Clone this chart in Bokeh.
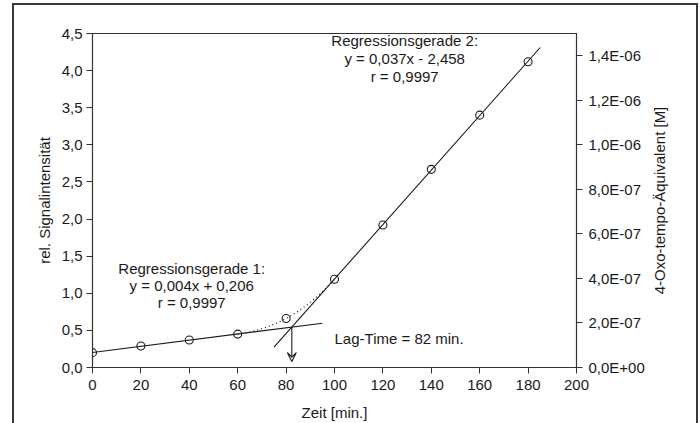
import numpy as np
from bokeh.plotting import figure
from bokeh.layouts import row
from bokeh.models import (Range1d, LinearAxis, FixedTicker, Arrow, VeeHead,
                          InlineStyleSheet)
from bokeh.core.properties import value
from bokeh.embed import file_html
from bokeh.resources import INLINE

# ---- data ----
time_min = [0, 20, 40, 60, 80, 100, 120, 140, 160, 180]
signal = [0.20, 0.29, 0.37, 0.45, 0.66, 1.19, 1.92, 2.67, 3.40, 4.12]

left_ticks = [0.0, 0.5, 1.0, 1.5, 2.0, 2.5, 3.0, 3.5, 4.0, 4.5]
left_tick_labels = ["0,0", "0,5", "1,0", "1,5", "2,0", "2,5", "3,0", "3,5", "4,0", "4,5"]
bottom_ticks = [0, 20, 40, 60, 80, 100, 120, 140, 160, 180, 200]
right_ticks = [0.0, 2e-7, 4e-7, 6e-7, 8e-7, 1.0e-6, 1.2e-6, 1.4e-6]
right_tick_labels = ["0,0E+00", "2,0E-07", "4,0E-07", "6,0E-07", "8,0E-07",
                     "1,0E-06", "1,2E-06", "1,4E-06"]
right_max = 1.5e-6
right_axis_title = "4-Oxo-tempo-Äquivalent [M]"

reg1_text = ["Regressionsgerade 1:", "y = 0,004x + 0,206", "r = 0,9997"]
reg2_text = ["Regressionsgerade 2:", "y = 0,037x - 2,458", "r = 0,9997"]
lag_text = "Lag-Time = 82 min."

# ---- fits ----
m1, b1 = np.polyfit(time_min[0:4], signal[0:4], 1)
m2, b2 = np.polyfit(time_min[5:], signal[5:], 1)
lag = (b1 - b2) / (m2 - m1)
lag_y = m1 * lag + b1

FONT = "Liberation Sans"
FS = "15px"
INK = "#1a1a1a"

frame_css = InlineStyleSheet(css="""
:host { position: relative; }
:host::after {
  content: "";
  position: absolute;
  left: 12px; top: 3px; right: 6px; bottom: 0px;
  border: 2px solid #3a3a3a;
  border-bottom: none;
  pointer-events: none;
  z-index: 100;
}
""")

p = figure(width=646, height=423, frame_width=484, frame_height=334,
           min_border_left=92, min_border_right=70, min_border_top=33, min_border_bottom=56,
           x_range=Range1d(0, 200), y_range=Range1d(0, 4.5),
           output_backend="svg", toolbar_location=None)
p.extra_y_ranges = {"conc": Range1d(0, right_max)}
p.grid.visible = False
p.outline_line_color = "#333333"
p.outline_line_width = 1.2
p.background_fill_color = "white"
p.border_fill_color = "white"

def style_axis(ax):
    ax.axis_line_color = "#333333"
    ax.major_tick_line_color = "#333333"
    ax.minor_tick_line_color = None
    ax.major_tick_in = 0
    ax.major_tick_out = 6
    ax.major_label_text_font = FONT
    ax.major_label_text_font_size = FS
    ax.major_label_text_color = INK
    ax.axis_label_text_font = FONT
    ax.axis_label_text_font_size = FS
    ax.axis_label_text_font_style = "normal"
    ax.axis_label_text_color = INK

xa = p.xaxis[0]
xa.ticker = FixedTicker(ticks=bottom_ticks)
xa.axis_label = "Zeit [min.]"
style_axis(xa)
xa.major_label_standoff = 6
xa.axis_label_standoff = 11

ya = p.yaxis[0]
ya.ticker = FixedTicker(ticks=left_ticks)
ya.major_label_overrides = {t: l for t, l in zip(left_ticks, left_tick_labels)}
ya.axis_label = "rel. Signalintensität"
style_axis(ya)
ya.major_label_standoff = 4
ya.axis_label_standoff = 6

ra = LinearAxis(y_range_name="conc", ticker=FixedTicker(ticks=right_ticks))
ra.major_label_overrides = {t: l for t, l in zip(right_ticks, right_tick_labels)}
style_axis(ra)
ra.major_label_standoff = 6
p.add_layout(ra, "right")

# regression lines
x1 = np.array([0, 95])
p.line(x1, m1 * x1 + b1, line_color=INK, line_width=1.1)
x2 = np.array([75, 185])
p.line(x2, m2 * x2 + b2, line_color=INK, line_width=1.1)

# dotted transition curve (tangent to both lines)
p.quadratic(x0=[time_min[3]], y0=[signal[3]], x1=[time_min[5]], y1=[signal[5]],
            cx=[lag], cy=[lag_y], line_color=INK, line_dash="1 3", line_width=1.2)

# data points
p.scatter(time_min, signal, marker="circle", size=8, fill_color=None,
          line_color=INK, line_width=1.1)

# lag-time arrow
p.add_layout(Arrow(x_start=lag, y_start=lag_y, x_end=lag, y_end=0.08,
                   line_color=INK, line_width=1.1,
                   end=VeeHead(size=9, line_color=INK, line_width=1.1, fill_color=None)))

# annotations
def text_block(x, ys, lines):
    p.text(x=[x] * len(lines), y=ys, text=lines, text_align="center",
           text_baseline="middle", text_font=value(FONT), text_font_size=FS,
           text_color=INK)

text_block(41, [1.33, 1.105, 0.875], reg1_text)
text_block(129, [4.41, 4.165, 3.92], reg2_text)
p.text(x=[100], y=[0.39], text=[lag_text], text_align="left", text_baseline="middle",
       text_font=value(FONT), text_font_size=FS, text_color=INK)

# narrow companion panel carrying the right-hand axis title (reads bottom-to-top)
q = figure(width=54, height=423, frame_width=34, frame_height=334,
           min_border_left=20, min_border_right=0, min_border_top=33, min_border_bottom=56,
           x_range=Range1d(0, 1), y_range=Range1d(0, right_max),
           x_axis_type=None, output_backend="svg", toolbar_location=None)
q.grid.visible = False
q.outline_line_color = None
q.background_fill_color = "white"
q.border_fill_color = "white"
qa = q.yaxis[0]
qa.ticker = FixedTicker(ticks=[])
qa.axis_line_color = None
qa.major_tick_line_color = None
qa.minor_tick_line_color = None
qa.major_label_text_font_size = "0px"
qa.major_label_standoff = 0
qa.major_tick_out = 0
qa.major_tick_in = 0
qa.axis_label = right_axis_title
qa.axis_label_standoff = 3
qa.axis_label_text_font = FONT
qa.axis_label_text_font_size = FS
qa.axis_label_text_font_style = "normal"
qa.axis_label_text_color = INK

layout = row(p, q, spacing=0)
layout.stylesheets = [frame_css]

open("out.html", "w").write(file_html(layout, INLINE))
